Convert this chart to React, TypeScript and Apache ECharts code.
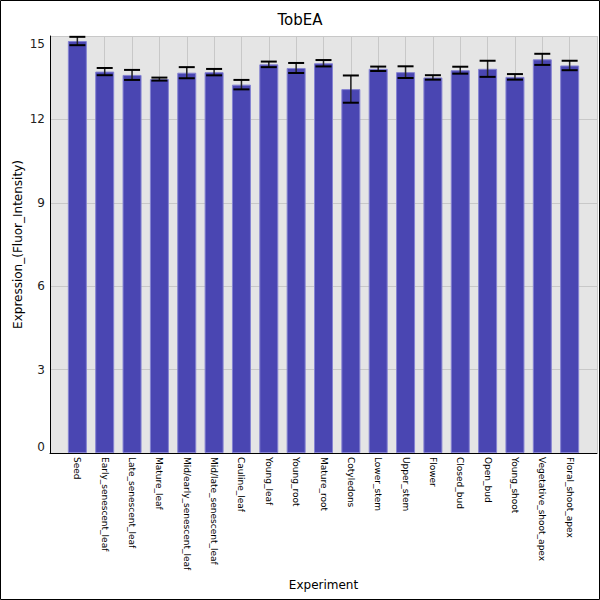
import React, { useEffect, useRef } from "react";
import * as echarts from "echarts";

const categories = [
  "Seed",
  "Early_senescent_leaf",
  "Late_senescent_leaf",
  "Mature_leaf",
  "Mid/early_senescent_leaf",
  "Mid/late_senescent_leaf",
  "Cauline_leaf",
  "Young_leaf",
  "Young_root",
  "Mature_root",
  "Cotyledons",
  "Lower_stem",
  "Upper_stem",
  "Flower",
  "Closed_bud",
  "Open_bud",
  "Young_shoot",
  "Vegetative_shoot_apex",
  "Floral_shoot_apex",
];

const expressionValues = [
  14.82, 13.72, 13.6, 13.45, 13.68, 13.7, 13.25, 13.98, 13.85, 14.02,
  13.09, 13.82, 13.7, 13.51, 13.77, 13.82, 13.53, 14.16, 13.94,
];

const errorValues = [
  0.15, 0.13, 0.18, 0.054, 0.2, 0.115, 0.17, 0.1, 0.18, 0.115,
  0.49, 0.08, 0.21, 0.08, 0.125, 0.29, 0.1, 0.2, 0.17,
];

const yTicks = [0, 3, 6, 9, 12, 15];

const FONT = "DejaVu Sans";

export default function App() {
  const ref = useRef<HTMLDivElement>(null);

  useEffect(() => {
    if (!ref.current) return;
    const chart = echarts.init(ref.current, null, { renderer: "svg" });

    const padded = ["", ...categories, ""];
    const barData: any[] = ["-", ...expressionValues, "-"];
    const errData = expressionValues.map((v, i) => [
      i + 1,
      v - errorValues[i],
      v + errorValues[i],
    ]);

    const option: any = {
      animation: false,
      backgroundColor: "#ffffff",
      title: {
        text: "TobEA",
        left: "center",
        top: 12,
        padding: 0,
        textStyle: {
          fontFamily: FONT,
          fontSize: 15,
          fontWeight: "normal",
          color: "#000",
        },
      },
      grid: {
        left: 50,
        top: 36,
        right: 3,
        bottom: 147,
        show: true,
        backgroundColor: "#e5e5e5",
        borderWidth: 0,
      },
      xAxis: {
        type: "category",
        data: padded,
        boundaryGap: false,
        name: "Experiment",
        nameLocation: "middle",
        nameGap: 126,
        nameMoveOverlap: false,
        nameTextStyle: { fontFamily: FONT, fontSize: 12, color: "#000" },
        axisLine: { show: true, lineStyle: { color: "#000", width: 1 } },
        axisTick: { show: false },
        axisLabel: {
          interval: 0,
          rotate: -90,
          margin: 4,
          fontFamily: FONT,
          fontSize: 9,
          color: "#000",
        },
        splitLine: {
          show: true,
          interval: 0,
          lineStyle: { color: "#c8c8c8", width: 1 },
        },
      },
      yAxis: {
        type: "value",
        min: yTicks[0],
        max: yTicks[yTicks.length - 1],
        interval: 3,
        name: "Expression_(Fluor_Intensity)",
        nameLocation: "middle",
        nameGap: 26,
        nameMoveOverlap: false,
        nameTextStyle: { fontFamily: FONT, fontSize: 12, color: "#000" },
        axisLine: { show: true, lineStyle: { color: "#000", width: 1 } },
        axisTick: { show: false },
        axisLabel: {
          margin: 5,
          fontFamily: FONT,
          fontSize: 12,
          color: "#222",
          verticalAlignMaxLabel: "top",
          verticalAlignMinLabel: "bottom",
          padding: [2, 0, 0, 0],
        },
        splitLine: { show: true, lineStyle: { color: "#c8c8c8", width: 1 } },
      },
      graphic: [
        {
          type: "rect",
          shape: { x: 0.5, y: 0.5, width: 599, height: 599 },
          style: { fill: "none", stroke: "#000", lineWidth: 1 },
          silent: true,
          z: 100,
        },
      ],
      series: [
        {
          type: "bar",
          data: barData,
          barWidth: 19,
          itemStyle: {
            color: "#4a46b2",
            borderColor: "#8583d2",
            borderWidth: 1,
          },
          z: 2,
        },
        {
          type: "custom",
          data: errData,
          z: 5,
          renderItem: (params: any, api: any) => {
            const x = api.value(0);
            const lo = api.coord([x, api.value(1)]);
            const hi = api.coord([x, api.value(2)]);
            const hw = 8;
            return {
              type: "group",
              children: [
                {
                  type: "line",
                  shape: { x1: lo[0], y1: lo[1], x2: hi[0], y2: hi[1] },
                  style: { stroke: "#222", lineWidth: 1.5 },
                },
                {
                  type: "line",
                  shape: { x1: lo[0] - hw, y1: lo[1], x2: lo[0] + hw, y2: lo[1] },
                  style: { stroke: "#000", lineWidth: 2 },
                },
                {
                  type: "line",
                  shape: { x1: hi[0] - hw, y1: hi[1], x2: hi[0] + hw, y2: hi[1] },
                  style: { stroke: "#000", lineWidth: 2 },
                },
              ],
            };
          },
        },
      ],
    };

    chart.setOption(option);
    return () => chart.dispose();
  }, []);

  return (
    <div
      ref={ref}
      style={{ position: "absolute", left: 0, top: 0, width: 600, height: 600 }}
    />
  );
}
